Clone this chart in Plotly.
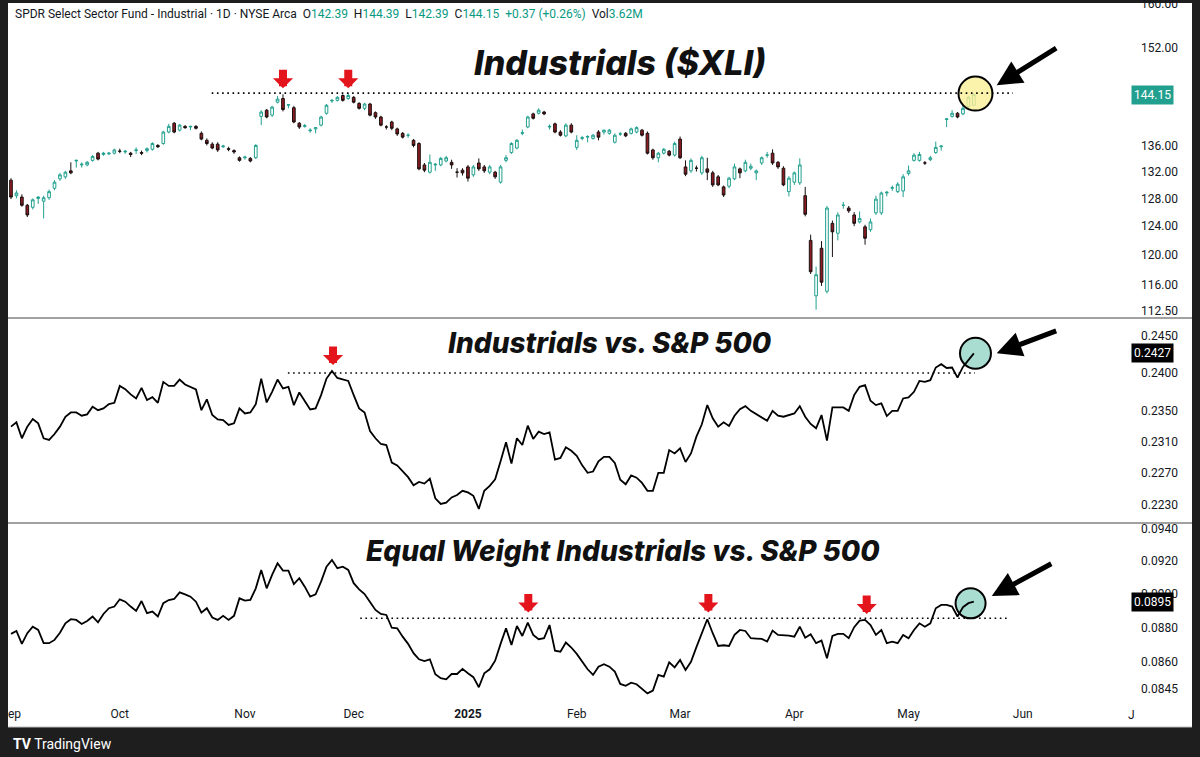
import numpy as np
import plotly.graph_objects as go

# XLI daily candles, 2024-09-03 .. 2025-05-19, x = trading-day index
opens = [130.7, 128.4, 128.2, 127.0, 126.7, 128.0, 127.6, 128.1, 129.5, 130.9,
         131.2, 132.1, 133.6, 133.0, 133.0, 133.7, 134.8, 134.6, 134.7, 134.8,
         135.1, 135.0, 134.8, 135.2, 134.9, 135.2, 135.4, 136.0, 136.3, 138.1,
         139.5, 138.4, 139.0, 138.9, 139.0, 137.9, 136.8, 136.2, 136.2, 135.8,
         135.5, 135.2, 134.1, 134.1, 134.0, 134.1, 140.6, 141.6, 140.8, 142.9,
         143.5, 142.4, 142.0, 139.5, 139.0, 138.3, 138.6, 139.2, 141.1, 143.1,
         143.2, 144.0, 143.5, 143.7, 142.7, 141.9, 142.6, 141.2, 140.5, 138.9,
         139.7, 138.6, 137.9, 137.6, 136.8, 136.3, 133.0, 131.9, 133.0, 133.0,
         133.6, 133.4, 131.9, 132.2, 132.7, 131.5, 133.3, 132.7, 131.9, 131.9,
         130.4, 133.7, 134.9, 135.6, 137.9, 138.9, 141.0, 141.1, 141.3, 138.9,
         139.4, 138.1, 137.5, 139.2, 135.7, 137.1, 137.3, 137.1, 138.1, 138.1,
         137.9, 136.5, 137.8, 137.9, 137.9, 138.1, 138.4, 137.9, 135.3, 134.1,
         134.8, 135.1, 134.5, 137.0, 132.7, 132.1, 132.5, 131.8, 132.4, 131.8,
         131.2, 129.7, 129.8, 130.9, 132.4, 132.1, 132.5, 131.8, 133.3, 134.5,
         134.8, 133.4, 132.5, 129.0, 130.4, 130.3, 128.4, 122.0, 114.5, 120.9,
         115.1, 124.4, 123.0, 127.0, 126.6, 125.6, 124.6, 123.9, 123.5, 125.9,
         125.9, 128.8, 129.5, 129.0, 129.1, 131.7, 133.7, 133.7, 133.3, 133.8,
         134.9, 135.8, 140.1, 140.6, 141.1, 141.0, 142.2, 142.39]
highs = [131.0, 129.2, 128.6, 127.2, 128.0, 128.3, 128.4, 129.3, 130.7, 131.8,
         132.1, 133.4, 133.8, 133.4, 133.6, 134.5, 135.0, 135.0, 135.0, 135.5,
         135.5, 135.3, 135.0, 135.7, 135.2, 135.7, 136.5, 136.2, 138.3, 139.4,
         139.7, 139.4, 139.2, 139.1, 139.2, 138.2, 137.1, 136.5, 136.5, 136.1,
         135.8, 135.4, 134.3, 134.4, 134.2, 136.2, 141.6, 141.8, 142.3, 143.9,
         144.2, 142.6, 142.3, 139.7, 139.4, 138.7, 138.9, 140.7, 142.6, 143.4,
         143.9, 144.2, 144.39, 143.9, 142.9, 142.8, 142.8, 141.4, 140.7, 139.2,
         139.9, 138.8, 138.1, 137.9, 137.0, 136.5, 133.3, 134.6, 133.3, 134.2,
         134.4, 133.8, 132.5, 132.5, 133.0, 133.0, 134.0, 133.0, 133.0, 132.1,
         133.0, 134.5, 136.5, 137.0, 138.5, 140.7, 141.2, 141.9, 141.5, 139.3,
         139.6, 138.4, 139.5, 139.5, 137.6, 137.5, 137.6, 137.8, 138.4, 138.5,
         138.6, 137.9, 138.1, 138.1, 138.8, 139.0, 138.6, 138.2, 135.5, 135.0,
         135.6, 135.3, 136.6, 137.4, 133.7, 134.0, 132.9, 134.4, 134.1, 132.1,
         131.5, 129.9, 131.2, 133.2, 132.6, 133.8, 133.2, 132.3, 134.3, 135.0,
         135.4, 133.6, 132.8, 131.3, 132.0, 134.0, 129.7, 122.8, 118.4, 121.9,
         126.9, 124.8, 126.0, 127.5, 126.9, 126.0, 126.1, 124.2, 125.1, 128.4,
         129.0, 129.1, 129.9, 130.4, 131.6, 132.9, 134.8, 135.0, 133.6, 134.4,
         136.6, 136.0, 140.3, 141.6, 141.3, 142.5, 143.9, 144.39]
lows = [127.9, 128.0, 126.8, 125.3, 126.4, 127.2, 125.1, 127.8, 129.2, 130.6,
        130.9, 131.6, 132.6, 132.6, 132.8, 133.5, 133.7, 134.4, 134.5, 134.6,
        134.8, 134.7, 134.2, 134.7, 134.5, 134.9, 135.2, 135.6, 136.1, 137.9,
        137.9, 138.2, 138.6, 138.4, 138.5, 136.8, 136.0, 135.4, 135.0, 135.6,
        135.1, 134.7, 133.5, 133.8, 133.4, 133.9, 139.2, 140.3, 140.5, 142.7,
        141.4, 141.9, 139.5, 138.6, 138.8, 138.0, 137.9, 139.0, 140.9, 142.8,
        143.0, 143.0, 143.3, 142.7, 141.7, 141.6, 140.6, 140.2, 139.0, 138.5,
        138.4, 137.5, 137.1, 137.2, 135.7, 132.2, 131.9, 131.7, 132.1, 132.8,
        133.4, 132.4, 131.1, 131.4, 130.5, 131.2, 132.1, 131.8, 131.6, 130.9,
        130.2, 133.4, 134.7, 135.4, 137.6, 138.7, 140.1, 140.9, 140.8, 138.5,
        137.9, 137.4, 137.3, 137.9, 135.3, 136.8, 136.5, 136.9, 136.8, 137.7,
        137.7, 136.3, 137.5, 137.3, 137.7, 137.9, 137.4, 134.6, 133.8, 133.4,
        134.6, 134.3, 134.3, 133.9, 131.3, 131.8, 132.0, 131.5, 130.7, 129.7,
        129.8, 128.2, 129.5, 130.7, 131.0, 131.9, 132.2, 130.7, 133.0, 134.1,
        133.0, 132.4, 129.8, 128.3, 130.0, 130.0, 125.4, 117.4, 112.7, 115.8,
        114.8, 119.7, 122.0, 126.5, 125.9, 124.0, 124.4, 121.4, 123.2, 125.6,
        125.6, 128.3, 129.1, 128.8, 128.2, 131.4, 133.5, 133.5, 133.0, 133.6,
        134.7, 135.2, 138.9, 140.4, 140.3, 140.8, 142.0, 142.39]
closes = [128.2, 128.8, 127.0, 125.6, 127.8, 128.2, 128.1, 129.0, 130.4, 131.5,
          131.9, 131.8, 133.7, 133.1, 133.4, 134.3, 133.9, 134.8, 134.8, 135.3,
          135.1, 135.1, 134.6, 135.3, 134.8, 135.5, 136.3, 135.8, 138.1, 139.0,
          138.1, 139.2, 138.8, 139.0, 138.7, 137.0, 136.3, 135.6, 135.3, 135.9,
          135.4, 135.0, 133.7, 134.2, 133.6, 136.0, 141.3, 140.5, 142.1, 143.4,
          141.7, 142.5, 139.7, 138.9, 139.1, 138.4, 138.8, 140.5, 142.4, 143.2,
          143.7, 143.2, 144.0, 142.9, 141.9, 142.6, 140.8, 140.5, 139.2, 138.9,
          138.7, 137.8, 137.3, 137.6, 136.0, 132.4, 132.2, 133.4, 133.1, 134.0,
          134.1, 133.0, 131.9, 131.8, 131.0, 132.7, 132.4, 132.1, 132.7, 131.2,
          132.7, 134.1, 136.3, 136.8, 138.0, 140.5, 140.3, 141.6, 141.0, 139.0,
          138.1, 137.6, 139.2, 138.1, 136.8, 137.2, 137.4, 137.6, 137.3, 138.4,
          138.4, 137.6, 137.8, 137.5, 138.6, 138.8, 137.6, 134.8, 134.1, 134.8,
          135.4, 134.5, 136.3, 134.1, 131.6, 133.7, 132.5, 134.1, 131.9, 130.0,
          130.0, 128.5, 131.0, 132.7, 131.8, 133.4, 132.8, 132.1, 134.1, 134.5,
          133.3, 132.7, 130.0, 131.0, 131.8, 133.0, 125.7, 117.7, 117.3, 116.3,
          126.6, 123.2, 125.6, 127.0, 126.2, 124.4, 125.1, 122.3, 124.6, 127.9,
          128.8, 128.9, 129.6, 130.1, 131.2, 132.1, 134.5, 134.6, 133.3, 134.1,
          135.7, 135.9, 140.2, 141.1, 140.5, 141.9, 143.7, 144.15]

# XLI / SPX ratio
xli_vs_spx = [0.23294, 0.23350, 0.23144, 0.23294, 0.23393, 0.23337, 0.23144, 0.23122, 0.23199, 0.23294,
              0.23423, 0.23479, 0.23479, 0.23436, 0.23454, 0.23553, 0.23509, 0.23532, 0.23588, 0.23605,
              0.23829, 0.23786, 0.23716, 0.23663, 0.23803, 0.23641, 0.23680, 0.23605, 0.23882, 0.23829,
              0.23829, 0.23913, 0.23847, 0.23816, 0.23782, 0.23509, 0.23650, 0.23445, 0.23389, 0.23380,
              0.23316, 0.23337, 0.23532, 0.23466, 0.23479, 0.23588, 0.23926, 0.23610, 0.23750, 0.23913,
              0.23795, 0.23816, 0.23575, 0.23742, 0.23628, 0.23518, 0.23532, 0.23707, 0.23926, 0.24027,
              0.23934, 0.23913, 0.23895, 0.23707, 0.23532, 0.23479, 0.23238, 0.23144, 0.23070, 0.23057,
              0.22832, 0.22797, 0.22719, 0.22648, 0.22546, 0.22587, 0.22567, 0.22629, 0.22382, 0.22312,
              0.22328, 0.22394, 0.22423, 0.22476, 0.22456, 0.22414, 0.22251, 0.22476, 0.22538, 0.22620,
              0.22849, 0.23092, 0.22819, 0.23144, 0.23057, 0.23307, 0.23135, 0.23229, 0.23199, 0.23221,
              0.22871, 0.22892, 0.23027, 0.22983, 0.22918, 0.22797, 0.22703, 0.22719, 0.22849, 0.22905,
              0.22905, 0.22827, 0.22616, 0.22558, 0.22669, 0.22641, 0.22575, 0.22476, 0.22476, 0.22703,
              0.22703, 0.22992, 0.22949, 0.23014, 0.22840, 0.22949, 0.23165, 0.23325, 0.23575, 0.23402,
              0.23294, 0.23350, 0.23303, 0.23436, 0.23522, 0.23562, 0.23500, 0.23457, 0.23423, 0.23371,
              0.23500, 0.23436, 0.23423, 0.23445, 0.23466, 0.23562, 0.23423, 0.23329, 0.23273, 0.23445,
              0.23113, 0.23545, 0.23545, 0.23545, 0.23500, 0.23707, 0.23816, 0.23838, 0.23632, 0.23575,
              0.23598, 0.23432, 0.23500, 0.23500, 0.23663, 0.23676, 0.23750, 0.23895, 0.23882, 0.23905,
              0.24074, 0.24119, 0.24068, 0.24074, 0.23939, 0.24082, 0.24173, 0.24265]

# equal weight industrials / SPX ratio
ew_vs_spx = [0.08763, 0.08780, 0.08705, 0.08767, 0.08805, 0.08786, 0.08709, 0.08709, 0.08728, 0.08770,
             0.08825, 0.08849, 0.08845, 0.08821, 0.08839, 0.08865, 0.08831, 0.08880, 0.08914, 0.08924,
             0.08967, 0.08953, 0.08924, 0.08898, 0.08957, 0.08885, 0.08894, 0.08865, 0.08944, 0.08963,
             0.08969, 0.09009, 0.08997, 0.08983, 0.08953, 0.08888, 0.08914, 0.08859, 0.08845, 0.08869,
             0.08845, 0.08869, 0.08973, 0.08959, 0.08963, 0.09033, 0.09144, 0.09033, 0.09114, 0.09185,
             0.09140, 0.09140, 0.09059, 0.09094, 0.09043, 0.08983, 0.08997, 0.09073, 0.09164, 0.09205,
             0.09155, 0.09164, 0.09144, 0.09064, 0.09027, 0.08999, 0.08951, 0.08904, 0.08880, 0.08874,
             0.08799, 0.08796, 0.08747, 0.08705, 0.08651, 0.08616, 0.08606, 0.08616, 0.08531, 0.08508,
             0.08502, 0.08532, 0.08532, 0.08561, 0.08536, 0.08514, 0.08457, 0.08536, 0.08559, 0.08608,
             0.08705, 0.08796, 0.08699, 0.08809, 0.08751, 0.08829, 0.08757, 0.08732, 0.08738, 0.08815,
             0.08666, 0.08660, 0.08713, 0.08684, 0.08647, 0.08599, 0.08559, 0.08527, 0.08574, 0.08588,
             0.08574, 0.08546, 0.08476, 0.08465, 0.08483, 0.08474, 0.08451, 0.08423, 0.08438, 0.08527,
             0.08517, 0.08599, 0.08570, 0.08612, 0.08555, 0.08602, 0.08686, 0.08767, 0.08849, 0.08767,
             0.08693, 0.08697, 0.08693, 0.08757, 0.08786, 0.08780, 0.08738, 0.08736, 0.08734, 0.08718,
             0.08782, 0.08757, 0.08757, 0.08753, 0.08747, 0.08805, 0.08741, 0.08761, 0.08709, 0.08724,
             0.08622, 0.08751, 0.08763, 0.08763, 0.08738, 0.08802, 0.08841, 0.08845, 0.08815, 0.08757,
             0.08786, 0.08709, 0.08718, 0.08709, 0.08757, 0.08738, 0.08786, 0.08825, 0.08805, 0.08825,
             0.08914, 0.08934, 0.08934, 0.08924, 0.08865, 0.08920, 0.08944, 0.08953]

month_pos = [0, 20, 43, 63, 84, 104, 123, 144, 165, 186]
month_labels = ["Sep", "Oct", "Nov", "Dec", "<b>2025</b>", "Feb", "Mar", "Apr", "May", "Jun"]

price_ticks = [112.5, 116, 120, 124, 128, 132, 136, 152, 160]
rel_ticks = [0.2230, 0.2270, 0.2310, 0.2350, 0.2400, 0.2450]
ew_ticks = [0.0845, 0.0860, 0.0880, 0.0900, 0.0920, 0.0940]

# resistance levels (level, from bar, to bar)
xli_res = (144.4, 36.9, 184.2)
rel_res = (0.2400, 50.9, 177.2)
ew_res = (0.08855, 64.2, 183.6)

# red arrows: (bar, value, axis)
red_arrows = [(50.0, 145.2, "y"), (62.0, 145.2, "y"), (59.2, 0.24108, "y2"),
              (95.1, 0.08888, "y3"), (128.2, 0.08888, "y3"), (157.3, 0.0888, "y3")]
# highlight circles: (bar, value, axis, colour, size)
circles = [(177.3, 144.31, "y", "rgba(250,240,150,0.8)", 34),
           (177.3, 0.24265, "y2", "rgba(140,210,195,0.75)", 31),
           (176.4, 0.08943, "y3", "rgba(140,210,195,0.75)", 30)]
# black pointer arrows: (tip bar, tip value, axis, dx, dy)
pointers = [(181.2, 145.69, "y", 61, -38), (181.2, 0.24265, "y2", 61, -23),
            (180.3, 0.08987, "y3", 61, -33)]

bars = list(range(len(closes)))
TEAL = "#22a08f"
INK = "#131722"

fig = go.Figure()

for bx, val, ax_, col, sz in circles:
    fig.add_trace(go.Scatter(x=[bx], y=[val], mode="markers", yaxis=ax_,
                             marker=dict(size=sz, color=col, line=dict(color="black", width=2)),
                             showlegend=False, hoverinfo="skip"))

fig.add_trace(go.Candlestick(
    x=bars, open=opens, high=highs, low=lows, close=closes,
    increasing=dict(line=dict(color=TEAL, width=1), fillcolor="white"),
    decreasing=dict(line=dict(color="#1a1010", width=1), fillcolor="#8e1b22"),
    whiskerwidth=0, showlegend=False, yaxis="y"))

fig.add_trace(go.Scatter(x=bars, y=xli_vs_spx, mode="lines", yaxis="y2",
                         line=dict(color="black", width=1.8), showlegend=False))
fig.add_trace(go.Scatter(x=bars, y=ew_vs_spx, mode="lines", yaxis="y3",
                         line=dict(color="black", width=1.8), showlegend=False))

for (lvl, x0, x1), ax_ in [(xli_res, "y"), (rel_res, "y2"), (ew_res, "y3")]:
    fig.add_trace(go.Scatter(x=[x0, x1], y=[lvl, lvl], mode="lines", yaxis=ax_,
                             line=dict(color="black", width=1.6, dash="1.6px,3.6px"),
                             showlegend=False, hoverinfo="skip"))

# pixel layout: plot area x 8..1118, y 3..705
def px(x):
    return (x - 8) / 1110

def py(y):
    return (705 - y) / 702

annotations = []
annotations.append(dict(
    xref="paper", yref="paper", x=px(13), y=py(14), xanchor="left", yanchor="middle",
    showarrow=False, font=dict(family="Roboto", size=12, color=INK),
    text=("SPDR Select Sector Fund - Industrial · 1D · NYSE Arca  "
          "O<span style='color:#089981'>142.39</span>  H<span style='color:#089981'>144.39</span>  "
          "L<span style='color:#089981'>142.39</span>  C<span style='color:#089981'>144.15</span>  "
          "<span style='color:#089981'>+0.37 (+0.26%)</span>  Vol<span style='color:#089981'>3.62M</span>")))

title_font = dict(family="Inter", color="#111111", weight=800, style="italic")
for txt, cx, cy, size in [("Industrials ($XLI)", 620, 62, 34),
                          ("Industrials vs. S&P 500", 610, 343, 28),
                          ("Equal Weight Industrials vs. S&P 500", 623, 551, 28)]:
    annotations.append(dict(xref="paper", yref="paper", x=px(cx), y=py(cy),
                            xanchor="center", yanchor="middle", showarrow=False,
                            text=txt, font=dict(size=size, **title_font)))

for txt, val, ax_, bg in [("144.15", 144.15, "y", TEAL), ("0.2427", 0.2427, "y2", "black"),
                          ("0.0895", 0.0895, "y3", "black")]:
    annotations.append(dict(xref="paper", yref=ax_, x=px(1131), y=np.log10(val),
                            xanchor="left", yanchor="middle", showarrow=False, text=txt,
                            bgcolor=bg, borderpad=2,
                            font=dict(family="Roboto", size=12, color="white")))

for bx, val, ax_ in red_arrows:
    annotations.append(dict(xref="x", yref=ax_, x=bx, y=np.log10(val), text="",
                            showarrow=True, arrowhead=1, arrowsize=0.42, arrowwidth=8,
                            arrowcolor="#e3141c", ax=0, ay=-20))

for bx, val, ax_, dx, dy in pointers:
    annotations.append(dict(xref="x", yref=ax_, x=bx, y=np.log10(val), text="",
                            showarrow=True, arrowhead=2, arrowsize=1.0, arrowwidth=5,
                            arrowcolor="black", ax=dx, ay=dy))

annotations.append(dict(xref="paper", yref="paper", x=px(1126), y=py(715), xanchor="left",
                        yanchor="middle", showarrow=False, text="J",
                        font=dict(family="Roboto", size=12, color=INK)))
annotations.append(dict(xref="paper", yref="paper", x=px(11), y=py(744), xanchor="left",
                        yanchor="middle", showarrow=False,
                        text="<b>TV</b> TradingView",
                        font=dict(family="Roboto", size=14, color="white")))

shapes = [
    dict(type="rect", xref="paper", yref="paper", x0=0, x1=px(1192), y0=py(727), y1=1,
         fillcolor="white", line=dict(width=0), layer="below"),
    dict(type="line", xref="paper", yref="paper", x0=0, x1=px(1192), y0=py(318), y1=py(318),
         line=dict(color="#444444", width=1.2)),
    dict(type="line", xref="paper", yref="paper", x0=0, x1=px(1192), y0=py(523), y1=py(523),
         line=dict(color="#444444", width=1.2)),
    dict(type="line", xref="paper", yref="paper", x0=0, x1=px(1192), y0=py(727), y1=py(727),
         line=dict(color="#bbbbbb", width=1)),
    dict(type="rect", xref="paper", yref="paper", x0=px(0), x1=0, y0=py(757), y1=1.01,
         fillcolor="#1e1e1e", line=dict(width=0), layer="above"),
]

axis_font = dict(family="Roboto", size=12, color=INK)
yax_common = dict(type="log", side="right", anchor="x", showgrid=False, zeroline=False,
                  showline=False, ticks="", tickfont=axis_font, ticklabelstandoff=22,
                  ticklabeloverflow="allow", automargin=False, fixedrange=True)

fig.update_layout(
    width=1200, height=757,
    margin=dict(l=8, r=82, t=3, b=52, autoexpand=False),
    paper_bgcolor="#1e1e1e", plot_bgcolor="white",
    xaxis=dict(range=[-0.55, 203.5], anchor="y3", tickvals=month_pos, ticktext=month_labels,
               showgrid=False, zeroline=False, showline=False, ticks="", automargin=False,
               tickfont=axis_font, rangeslider=dict(visible=False)),
    yaxis=dict(domain=[py(318), 1], range=[np.log10(111.63), np.log10(160.08)],
               tickvals=price_ticks, ticktext=[f"{v:.2f}" for v in price_ticks], **yax_common),
    yaxis2=dict(domain=[py(523), py(318)], range=[np.log10(0.22077), np.log10(0.24747)],
                tickvals=rel_ticks, ticktext=[f"{v:.4f}" for v in rel_ticks], **yax_common),
    yaxis3=dict(domain=[0, py(523)], range=[np.log10(0.083578), np.log10(0.094345)],
                tickvals=ew_ticks, ticktext=[f"{v:.4f}" for v in ew_ticks], **yax_common),
    annotations=annotations,
    shapes=shapes,
)

fig.write_html("out.html", config={"displayModeBar": False},
               post_script="document.body.style.margin='0px';")
